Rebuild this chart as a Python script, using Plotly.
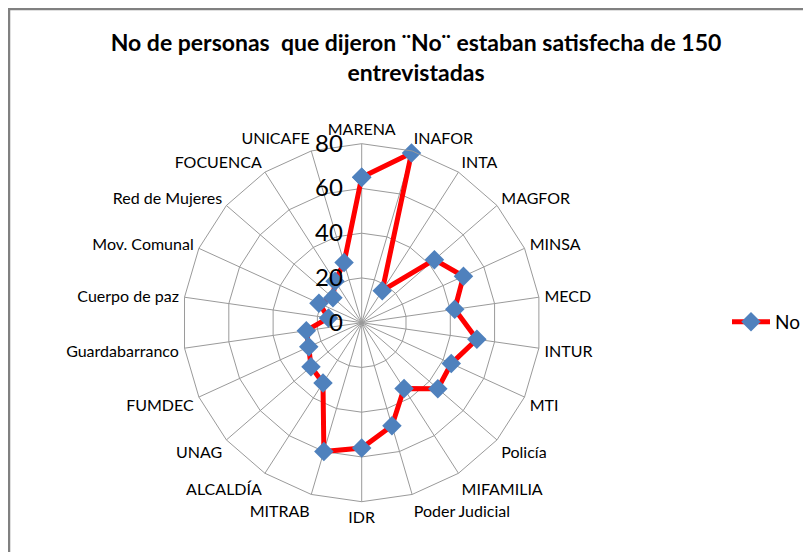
import plotly.graph_objects as go

categories = ["MARENA", "INAFOR", "INTA", "MAGFOR", "MINSA", "MECD", "INTUR", "MTI",
              "Policía", "MIFAMILIA", "Poder Judicial", "IDR", "MITRAB", "ALCALDÍA",
              "UNAG", "FUMDEC", "Guardabarranco", "Cuerpo de paz", "Mov. Comunal",
              "Red de Mujeres", "FOCUENCA", "UNICAFE"]
values_no = [65, 79, 17, 43, 50, 42, 52, 44, 45, 35, 48, 56, 60, 32, 30, 26, 25, 15,
             21, 17, 22, 28]
radial_ticks = [0, 20, 40, 60, 80]
series_name = "No"
title_text = "No de personas  que dijeron ¨No¨ estaban satisfecha de 150<br>entrevistadas"

W, H = 811, 552
FONT = "Lato, Carlito, Calibri, sans-serif"
OX, OY = 8, 8  # page offset observed in rendering

fig = go.Figure()
fig.add_trace(go.Scatterpolar(
    r=values_no + values_no[:1],
    theta=categories + categories[:1],
    mode="lines+markers",
    name=series_name,
    line=dict(color="#FF0000", width=5),
    marker=dict(symbol="diamond", size=15, color="#4F81BD", line=dict(width=0)),
))

cx, cy, rad = 361.7 - OX, 322.7 - OY, 179
fig.update_layout(
    width=W, height=H,
    margin=dict(l=0, r=0, t=0, b=0),
    paper_bgcolor="white",
    font=dict(family=FONT, color="#000000"),
    title=dict(text=title_text, x=(416 - OX) / W, xanchor="center", y=1 - 43 / H, yanchor="top",
               font=dict(family=FONT, size=23, color="#000000", weight="bold")),
    polar=dict(
        domain=dict(x=[(cx - rad) / W, (cx + rad) / W],
                    y=[(H - cy - rad) / H, (H - cy + rad) / H]),
        bgcolor="white",
        gridshape="linear",
        radialaxis=dict(range=[0, 80], tickvals=radial_ticks, angle=90,
                        side="counterclockwise", tickangle=90,
                        ticksuffix="\u00a0\u00a0\u00a0\u00a0",
                        tickfont=dict(size=24, family=FONT, color="#000000"),
                        showline=False, ticks="outside", ticklen=10,
                        tickcolor="rgba(0,0,0,0)", gridcolor="#9A9A9A", gridwidth=1),
        angularaxis=dict(rotation=90, direction="clockwise",
                         tickfont=dict(size=16, family=FONT, color="#000000"),
                         linecolor="#9A9A9A", linewidth=1,
                         gridcolor="#9A9A9A", gridwidth=1,
                         ticks="outside", ticklen=2, tickcolor="rgba(0,0,0,0)"),
    ),
    showlegend=True,
    legend=dict(x=(725 - OX + 2) / W, xanchor="left", y=1 - (322 - OY) / H, yanchor="middle",
                itemwidth=38,
                font=dict(size=19, family=FONT, color="#000000"),
                bgcolor="rgba(0,0,0,0)"),
    shapes=[
        dict(type="line", xref="paper", yref="paper", x0=0, x1=1, y0=1 - 1 / H, y1=1 - 1 / H,
             line=dict(color="#808080", width=2.5)),
        dict(type="line", xref="paper", yref="paper", x0=1 / W, x1=1 / W, y0=0, y1=1,
             line=dict(color="#808080", width=2.5)),
    ],
)

fig.write_html("out.html")
